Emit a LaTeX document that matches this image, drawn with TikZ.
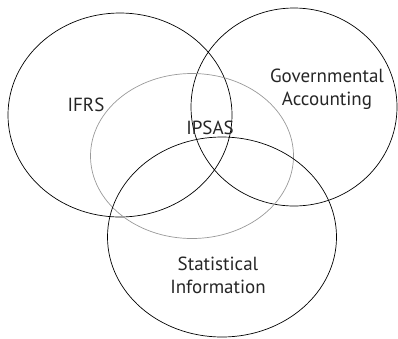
\documentclass[tikz,border=0pt]{standalone}
\usepackage{fontspec}
\setmainfont{PT Sans}
\usetikzlibrary{positioning,shapes.geometric}

\begin{document}
\begin{tikzpicture}[
    x=1pt, y=-1pt,
    set/.style={draw, ellipse, line width=0.7pt, inner sep=0pt},
    core/.style={set, draw=gray!80},
    lbl/.style={font=\fontsize{19}{23}\selectfont, text=black!85, align=center, inner sep=0pt}
]
\useasboundingbox (0,0) rectangle (398,338);

% Four overlapping sets
\node[set, minimum width=224pt, minimum height=204pt] (ifrs) at (120,115) {};
\node[set, minimum width=206pt, minimum height=198pt] (gov) at (294,107) {};
\node[core, minimum width=203pt, minimum height=165pt] (ipsas) at (192,156) {};
\node[set, minimum width=229pt, minimum height=200pt] (stat) at (222,237) {};

% Labels
\node[lbl] (ifrs-l) at (86,105) {IFRS};
\node[lbl] (gov-l) at (327,89) {Governmental\\Accounting};
\node[lbl] (ipsas-l) at (210,128) {IPSAS};
\node[lbl] (stat-l) at (218,275) {Statistical\\Information};
\end{tikzpicture}
\end{document}
